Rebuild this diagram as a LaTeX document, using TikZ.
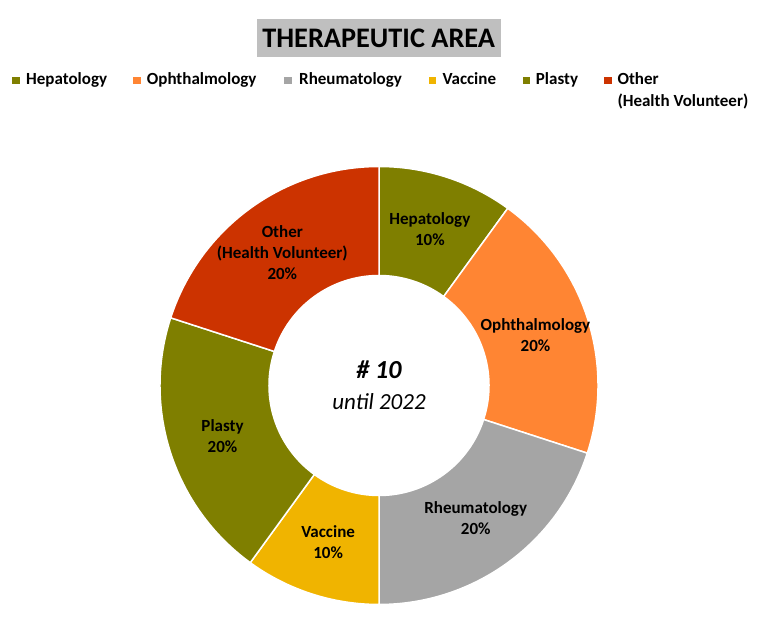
\documentclass[tikz,border=0pt]{standalone}
\usepackage{fontspec}
\setmainfont{Carlito}
\usetikzlibrary{positioning}
\definecolor{hepacol}{HTML}{7F7F00}
\definecolor{ophcol}{HTML}{FF8533}
\definecolor{rheucol}{HTML}{A5A5A5}
\definecolor{vaccol}{HTML}{F0B400}
\definecolor{plastcol}{HTML}{7F7F00}
\definecolor{othcol}{HTML}{CC3300}
\definecolor{titlegray}{HTML}{BFBFBF}
\begin{document}
\begin{tikzpicture}[x=1pt, y=1pt, every node/.style={inner sep=0pt},
  legbox/.style={minimum size=7.5pt},
  legtext/.style={font=\fontsize{17}{21.5}\selectfont\bfseries, anchor=base west, align=left},
  slicelabel/.style={font=\fontsize{17}{21}\selectfont\bfseries, align=center},
  slice/.style={draw=white, line width=1.5pt}]
\fill[white] (0,0) rectangle (765,617);
\useasboundingbox (0,0) rectangle (765,617);

\node[fill=titlegray, minimum width=244pt, minimum height=38.3pt, font=\fontsize{28.3}{31}\selectfont\bfseries] (title) at (378.7,578.8) {THERAPEUTIC AREA};

% legend
\node[legbox, fill=hepacol] (lhepa) at (16.1,536.5) {};
\node[legtext] (thepa) at (26,532) {Hepatology};
\node[legbox, fill=ophcol] (loph) at (136.8,536.5) {};
\node[legtext] (toph) at (146.7,532) {Ophthalmology};
\node[legbox, fill=rheucol] (lrheu) at (288,536.5) {};
\node[legtext] (trheu) at (299,532) {Rheumatology};
\node[legbox, fill=vaccol] (lvac) at (432.3,536.5) {};
\node[legtext] (tvac) at (442.3,532) {Vaccine};
\node[legbox, fill=plastcol] (lplast) at (526.5,536.5) {};
\node[legtext] (tplast) at (535.7,532) {Plasty};
\node[legbox, fill=othcol] (loth) at (608,536.5) {};
\node[legtext] (toth) at (617.3,510.5) {Other\\(Health Volunteer)};

% donut
\begin{scope}[shift={(379,231.5)}]
\foreach \a/\b/\col in {90/54/hepacol, 54/-18/ophcol, -18/-90/rheucol, -90/-126/vaccol, -126/-198/plastcol, -198/-270/othcol}
  \filldraw[slice, fill=\col] (\a:219) arc[start angle=\a, end angle=\b, radius=219] -- (\b:110) arc[start angle=\b, end angle=\a, radius=110] -- cycle;

\node[slicelabel] (hepa) at (72:164.5) {Hepatology\\10\%};
\node[slicelabel] (oph) at (18:164.5) {Ophthalmology\\20\%};
\node[slicelabel] (rheu) at (-54:164.5) {Rheumatology\\20\%};
\node[slicelabel] (vac) at (-108:164.5) {Vaccine\\10\%};
\node[slicelabel] (plast) at (-162:164.5) {Plasty\\20\%};
\node[slicelabel] (oth) at (126:164.5) {Other\\(Health Volunteer)\\20\%};

\node[font=\fontsize{26}{30}\selectfont\bfseries\itshape, anchor=base] (num) at (0,7.2) {\# 10};
\node[font=\fontsize{23}{27}\selectfont\itshape, anchor=base] (until) at ([yshift=-31pt]num.base) {until 2022};
\end{scope}
\end{tikzpicture}
\end{document}
